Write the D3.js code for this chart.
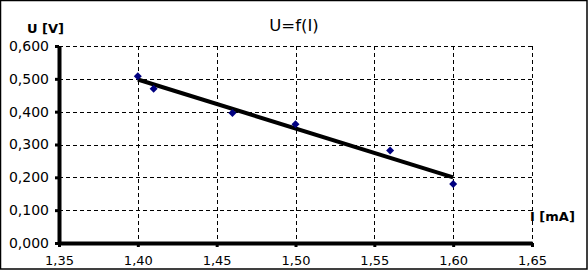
<!DOCTYPE html>
<html>
<head>
<meta charset="utf-8">
<script src="https://cdn.jsdelivr.net/npm/d3@7"></script>
<style>
  body { margin: 0; background: #fff; }
  text { font-family: "DejaVu Sans", sans-serif; }
</style>
</head>
<body>
<script>
(function () {

    // measured points
    const current = [1.40, 1.41, 1.46, 1.50, 1.56, 1.60];
    const voltage = [0.508, 0.470, 0.396, 0.362, 0.282, 0.180];

    const xTicks = [1.35, 1.40, 1.45, 1.50, 1.55, 1.60, 1.65];
    const yTicks = [0, 0.1, 0.2, 0.3, 0.4, 0.5, 0.6];

    const margin = {top: 46, left: 59, right: 56, bottom: 27};
    const W = 588, H = 270;
    const width = W - margin.left - margin.right,
        height = H - margin.top - margin.bottom;

    const fmtX = d => d3.format('.2f')(d).replace('.', ',');
    const fmtY = d => d3.format('.3f')(d).replace('.', ',');

    const svg = d3.select('body')
        .append('svg')
        .attr('width', W)
        .attr('height', H);

    svg.append('rect')
        .attr('x', 0.5).attr('y', 0.5)
        .attr('width', W - 1.5).attr('height', H - 1.5)
        .attr('fill', '#fff')
        .attr('stroke', '#000')
        .attr('stroke-width', 1.5);

    const g = svg.append('g')
        .attr('transform', 'translate(' + margin.left + ', ' + margin.top + ')');

    const scaleX = d3.scaleLinear()
        .domain([1.35, 1.65])
        .range([0, width]);

    const scaleY = d3.scaleLinear()
        .domain([0, 0.6])
        .range([height, 0]);

    // gridlines
    g.append('g')
        .selectAll('line')
        .data(xTicks.slice(1))
        .join('line')
        .attr('x1', d => Math.round(scaleX(d)) + 0.5)
        .attr('x2', d => Math.round(scaleX(d)) + 0.5)
        .attr('y1', 0).attr('y2', height)
        .attr('stroke', '#000')
        .attr('stroke-dasharray', '4,3');

    g.append('g')
        .selectAll('line')
        .data(yTicks.slice(1))
        .join('line')
        .attr('x1', 0).attr('x2', width)
        .attr('y1', d => Math.round(scaleY(d)) + 0.5)
        .attr('y2', d => Math.round(scaleY(d)) + 0.5)
        .attr('stroke', '#000')
        .attr('stroke-dasharray', '4,3');

    const x_axis = d3.axisBottom(scaleX)
        .tickValues(xTicks)
        .tickFormat(fmtX)
        .tickSize(4)
        .tickSizeOuter(0)
        .tickPadding(9);

    const y_axis = d3.axisLeft(scaleY)
        .tickValues(yTicks)
        .tickFormat(fmtY)
        .tickSize(4)
        .tickSizeOuter(0)
        .tickPadding(6);

    const gx = g.append('g')
        .attr('transform', 'translate(0, ' + height + ')')
        .call(x_axis);
    gx.select('.domain').attr('stroke-width', 4);
    gx.selectAll('.tick line').attr('stroke-width', 3);
    gx.selectAll('text').attr('font-size', 13).attr('fill', '#000');

    const gy = g.append('g')
        .call(y_axis);
    gy.select('.domain').attr('stroke-width', 4);
    gy.selectAll('.tick line').attr('stroke-width', 3);
    gy.selectAll('text').attr('font-size', 14).attr('fill', '#000');

    // linear trendline
    const mx = d3.mean(current), my = d3.mean(voltage);
    const sxy = d3.sum(current, (x, i) => (x - mx) * (voltage[i] - my));
    const sxx = d3.sum(current, x => (x - mx) * (x - mx));
    const slope = sxy / sxx, icpt = my - slope * mx;
    const xr = d3.extent(current);

    g.append('line')
        .attr('x1', scaleX(xr[0])).attr('y1', scaleY(icpt + slope * xr[0]))
        .attr('x2', scaleX(xr[1])).attr('y2', scaleY(icpt + slope * xr[1]))
        .attr('stroke', '#000')
        .attr('stroke-width', 4);

    g.append('g')
        .selectAll('path')
        .data(current)
        .join('path')
        .attr('transform', (d, i) => 'translate(' + scaleX(d) + ',' + scaleY(voltage[i]) + ')')
        .attr('d', 'M0,-4L4,0L0,4L-4,0Z')
        .attr('fill', '#000080');

    svg.append('text')
        .attr('x', 294).attr('y', 31)
        .attr('text-anchor', 'middle')
        .attr('font-size', 16.5)
        .text('U=f(I)');

    svg.append('text')
        .attr('x', 27).attr('y', 33)
        .attr('font-size', 13)
        .attr('font-weight', 'bold')
        .text('U [V]');

    svg.append('text')
        .attr('x', 530).attr('y', 221)
        .attr('font-size', 13)
        .attr('font-weight', 'bold')
        .text('I [mA]');

})();
</script>
</body>
</html>
